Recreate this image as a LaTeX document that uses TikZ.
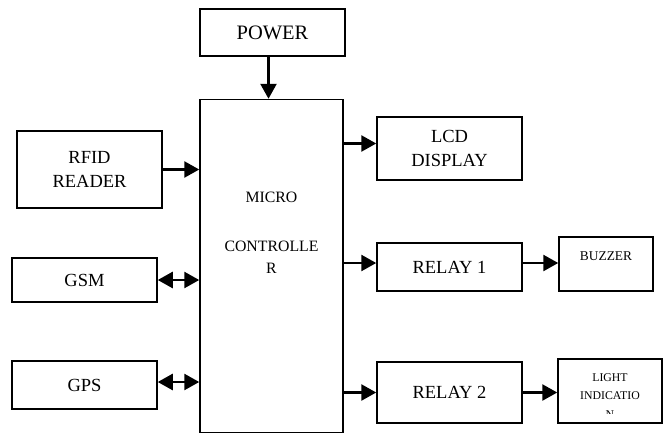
\documentclass[tikz,border=0pt]{standalone}
\usepackage{fontspec}
\setmainfont{Liberation Serif}
\usetikzlibrary{arrows.meta,calc,positioning}
\tikzset{
 blockdiag/.style={line join=miter,text=black},
 block/.style={rectangle,draw=black,fill=white,line width=1.5pt,inner sep=0pt,align=center,
   font=\fontsize{18.5}{24.5}\selectfont},
 bigblock/.style={block,font=\fontsize{20.5}{25}\selectfont},
 smallblock/.style={block,font=\fontsize{13.4}{16}\selectfont},
 link/.style={draw=black,line width=2.6pt,-{Triangle[length=15pt,width=16pt]}},
 duplex/.style={link,{Triangle[length=15pt,width=16pt]}-{Triangle[length=15pt,width=16pt]}},
 mcutext/.style={font=\fontsize{15.8}{22}\selectfont,align=center},
 lighttext/.style={font=\fontsize{11.8}{18.5}\selectfont,align=center}
}
\begin{document}
\begin{tikzpicture}[blockdiag,x=1pt,y=-1pt]
 \useasboundingbox (0,0) rectangle (663,434);
 \node[bigblock,minimum width=145pt,minimum height=47pt] (power) at (272.5,32.5) {POWER};
 \node[block,minimum width=143pt,minimum height=333pt] (mcu) at (271.5,266) {};
 \node[mcutext] (mcuname) at (271.5,233) {MICRO\\[27pt]CONTROLLE\\R};
 \node[block,minimum width=145pt,minimum height=77pt] (rfid) at (89.5,169.5) {RFID\\READER};
 \node[block,minimum width=145pt,minimum height=44pt] (gsm) at (84.5,280) {GSM};
 \node[block,minimum width=145pt,minimum height=48pt] (gps) at (84.5,385) {GPS};
 \node[block,minimum width=145pt,minimum height=63pt] (lcd) at (449.5,148.5) {LCD\\DISPLAY};
 \node[block,minimum width=145pt,minimum height=48pt] (relayA) at (449.5,267) {RELAY 1};
 \node[block,minimum width=145pt,minimum height=61pt] (relayB) at (449.5,392.5) {RELAY 2};
 \node[smallblock,minimum width=94pt,minimum height=54pt] (buzzer) at (606,264) {BUZZER\\\mbox{}};
 \node[block,minimum width=104pt,minimum height=64pt] (light) at (610,391) {};
 \begin{scope}
  \clip (559,360) rectangle (661,413);
  \node[lighttext] (lightname) at (610,396) {LIGHT\\INDICATIO\\N};
 \end{scope}
 \draw[link] ([xshift=-4pt]power.south) -- ([xshift=-4pt]power.south |- mcu.north);
 \draw[link] (rfid.east) -- (rfid.east -| mcu.west);
 \draw[duplex] (gsm.east) -- (gsm.east -| mcu.west);
 \draw[duplex] ([yshift=3pt]gps.east) -- ([yshift=3pt]gps.east -| mcu.west);
 \draw[link] ([yshift=5pt]lcd.west -| mcu.east) -- ([yshift=5pt]lcd.west);
 \draw[link] ([yshift=4pt]relayA.west -| mcu.east) -- ([yshift=4pt]relayA.west);
 \draw[link] (relayB.west -| mcu.east) -- (relayB.west);
 \draw[link] ([yshift=4pt]relayA.east) -- ([yshift=4pt]relayA.east -| buzzer.west);
 \draw[link] (relayB.east) -- (relayB.east -| light.west);
\end{tikzpicture}
\end{document}
